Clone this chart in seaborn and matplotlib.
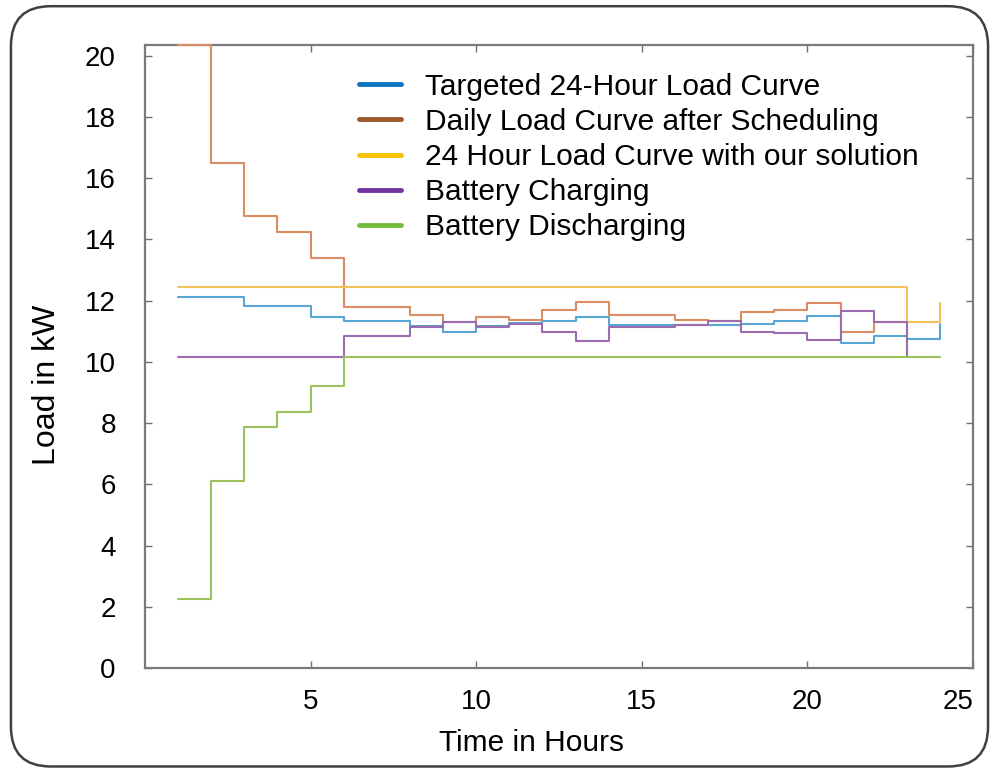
import numpy as np
import pandas as pd
import matplotlib
matplotlib.use("Agg")
import matplotlib.pyplot as plt
from matplotlib.lines import Line2D
from matplotlib.patches import FancyBboxPatch
import seaborn as sns

# Hourly load profiles (kW), stairs drawn from hour 1 onwards
hours_24 = list(range(1, 25))
hours_23 = list(range(1, 24))

targeted = [12.13, 12.13, 11.82, 11.82, 11.47, 11.32, 11.33, 11.18, 10.96, 11.18,
            11.27, 11.33, 11.46, 11.19, 11.19, 11.19, 11.21, 11.24, 11.34, 11.48,
            10.63, 10.83, 10.74, 11.24]
scheduled = [20.36, 16.49, 14.76, 14.25, 13.39, 11.79, 11.79, 11.53, 11.31, 11.45,
             11.38, 11.68, 11.95, 11.53, 11.53, 11.35, 11.32, 11.63, 11.68, 11.92,
             10.99, 11.31, 11.31]
solution = [12.45] * 22 + [11.30, 11.91]
charging = [10.16, 10.16, 10.16, 10.16, 10.16, 10.83, 10.83, 11.14, 11.31, 11.14,
            11.22, 10.96, 10.69, 11.14, 11.14, 11.19, 11.32, 10.99, 10.93, 10.72,
            11.65, 11.31, 10.16]
discharging = [2.25, 6.11, 7.86, 8.37, 9.22] + [10.16] * 19

labels = ["Targeted 24-Hour Load Curve",
          "Daily Load Curve after Scheduling",
          "24 Hour Load Curve with our solution",
          "Battery Charging",
          "Battery Discharging"]
line_colors = ["#58a6d3", "#dc8c62", "#f3c35c", "#9c6cb2", "#9cc25c"]
legend_colors = ["#0a74c4", "#9c5a2c", "#f8c200", "#7232a2", "#74bd3c"]

x_ticks = [5, 10, 15, 20, 25]
y_ticks = list(range(0, 21, 2))

sns.set_theme(style="white")
plt.rcParams["font.family"] = ["Liberation Sans", "DejaVu Sans"]
plt.rcParams["text.color"] = "black"
plt.rcParams["axes.labelcolor"] = "black"
plt.rcParams["xtick.color"] = "black"
plt.rcParams["ytick.color"] = "black"

fig = plt.figure(figsize=(9.95, 7.75), dpi=100)

# rounded outer frame of the panel
frame = FancyBboxPatch((0.011, 0.011), 0.982, 0.981,
                       boxstyle="round,pad=0,rounding_size=0.04",
                       transform=fig.transFigure, facecolor="white",
                       edgecolor="#404040", linewidth=1.8, zorder=-5,
                       mutation_aspect=995 / 775)
fig.patches.append(frame)

ax = fig.add_axes([0.1457, 0.138, 0.8322, 0.8045])
ax.set_facecolor("white")

series = [(hours_24, targeted), (hours_23, scheduled), (hours_24, solution),
          (hours_23, charging), (hours_24, discharging)]
for (xs, ys), col in zip(series, line_colors):
    df = pd.DataFrame({"hour": xs, "load": ys})
    sns.lineplot(data=df, x="hour", y="load", ax=ax, color=col,
                 linewidth=1.5, drawstyle="steps-post", estimator=None,
                 legend=False, clip_on=False, zorder=3)

ax.set_xlim(0, 25)
ax.set_ylim(0, 20.36)
ax.set_xticks(x_ticks)
ax.set_yticks(y_ticks)
ax.set_xticklabels([str(t) for t in x_ticks], fontsize=20)
ax.set_yticklabels([str(t) for t in y_ticks], fontsize=20)
ax.get_xticklabels()[-1].set_horizontalalignment("right")
ax.tick_params(axis="both", direction="in", length=5, width=1.0,
               color="#707070", top=True, right=True, bottom=True, left=True)
ax.tick_params(axis="y", pad=21)
ax.tick_params(axis="x", pad=15)
for sp in ax.spines.values():
    sp.set_color("#7a7a7a")
    sp.set_linewidth(1.6)

ax.set_xlabel("Time in Hours", fontsize=21.5)
ax.xaxis.set_label_coords(0.467, -0.097)
ax.set_ylabel("Load in kW", fontsize=23)
ax.yaxis.set_label_coords(-0.10, 0.454)

handles = [Line2D([0], [0], color=c, linewidth=3.5) for c in legend_colors]
ax.legend(handles, labels, loc="upper left", bbox_to_anchor=(0.226, 0.998),
          frameon=False, fontsize=21.5, handlelength=1.4, handletextpad=0.8,
          labelspacing=0.24)

fig.savefig("out.png", dpi=100)
